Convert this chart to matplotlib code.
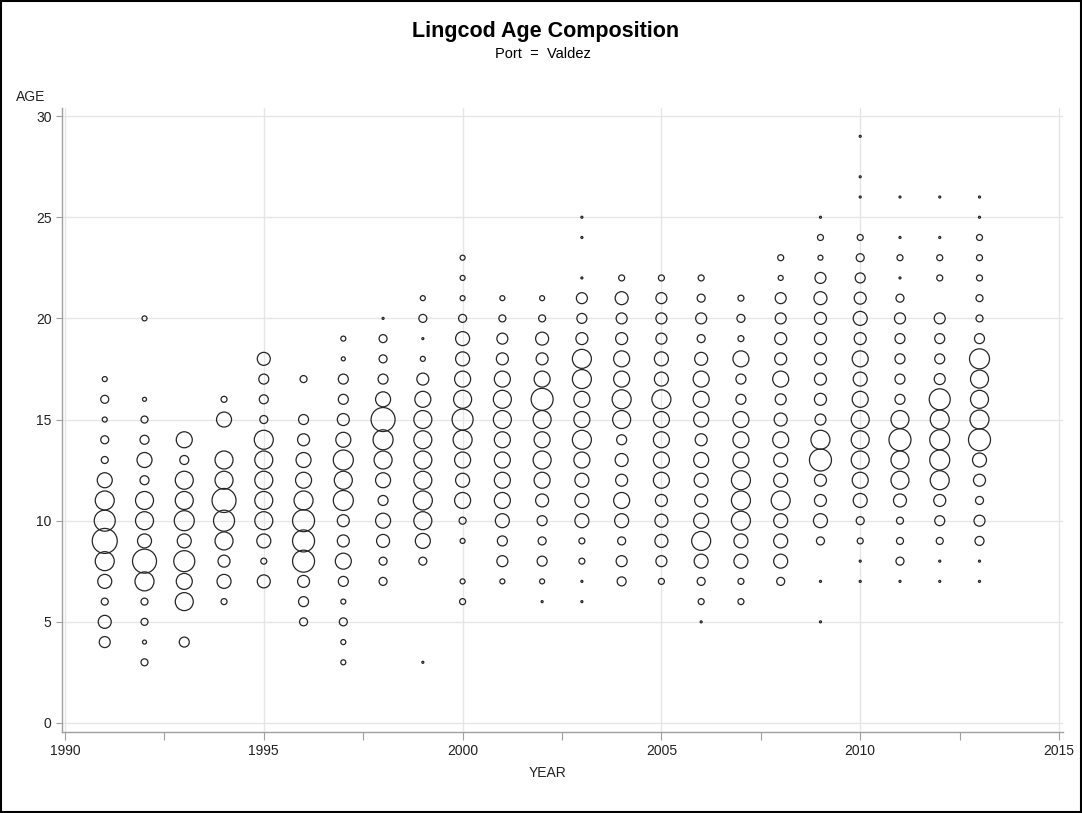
import matplotlib.pyplot as plt
import numpy as np
from matplotlib.patches import Rectangle

# sample year, ages present and relative bubble size (fish count) per age
years = [1991, 1992, 1993, 1994, 1995, 1996, 1997, 1998, 1999, 2000, 2001, 2002,
         2003, 2004, 2005, 2006, 2007, 2008, 2009, 2010, 2011, 2012, 2013]

ages = [
    [17, 16, 15, 14, 13, 12, 11, 10, 9, 8, 7, 6, 5, 4],
    [20, 16, 15, 14, 13, 12, 11, 10, 9, 8, 7, 6, 5, 4, 3],
    [14, 13, 12, 11, 10, 9, 8, 7, 6, 4],
    [16, 15, 13, 12, 11, 10, 9, 8, 7, 6],
    [18, 17, 16, 15, 14, 13, 12, 11, 10, 9, 8, 7],
    [17, 15, 14, 13, 12, 11, 10, 9, 8, 7, 6, 5],
    [19, 18, 17, 16, 15, 14, 13, 12, 11, 10, 9, 8, 7, 6, 5, 4, 3],
    [20, 19, 18, 17, 16, 15, 14, 13, 12, 11, 10, 9, 8, 7],
    [21, 20, 19, 18, 17, 16, 15, 14, 13, 12, 11, 10, 9, 8, 3],
    [23, 22, 21, 20, 19, 18, 17, 16, 15, 14, 13, 12, 11, 10, 9, 7, 6],
    [21, 20, 19, 18, 17, 16, 15, 14, 13, 12, 11, 10, 9, 8, 7],
    [21, 20, 19, 18, 17, 16, 15, 14, 13, 12, 11, 10, 9, 8, 7, 6],
    [25, 24, 22, 21, 20, 19, 18, 17, 16, 15, 14, 13, 12, 11, 10, 9, 8, 7, 6],
    [22, 21, 20, 19, 18, 17, 16, 15, 14, 13, 12, 11, 10, 9, 8, 7],
    [22, 21, 20, 19, 18, 17, 16, 15, 14, 13, 12, 11, 10, 9, 8, 7],
    [22, 21, 20, 19, 18, 17, 16, 15, 14, 13, 12, 11, 10, 9, 8, 7, 6, 5],
    [21, 20, 19, 18, 17, 16, 15, 14, 13, 12, 11, 10, 9, 8, 7, 6],
    [23, 22, 21, 20, 19, 18, 17, 16, 15, 14, 13, 12, 11, 10, 9, 8, 7],
    [25, 24, 23, 22, 21, 20, 19, 18, 17, 16, 15, 14, 13, 12, 11, 10, 9, 7, 5],
    [29, 27, 26, 24, 23, 22, 21, 20, 19, 18, 17, 16, 15, 14, 13, 12, 11, 10, 9, 8, 7],
    [26, 24, 23, 22, 21, 20, 19, 18, 17, 16, 15, 14, 13, 12, 11, 10, 9, 8, 7],
    [26, 24, 23, 22, 20, 19, 18, 17, 16, 15, 14, 13, 12, 11, 10, 9, 8, 7],
    [26, 25, 24, 23, 22, 21, 20, 19, 18, 17, 16, 15, 14, 13, 12, 11, 10, 9, 8, 7],
]

counts = [
    [4, 7, 4, 7, 6, 14, 18, 20, 24, 18, 13, 6, 12, 10],
    [4, 3, 6, 8, 14, 8, 17, 17, 13, 23, 18, 6, 6, 3, 6],
    [15, 8, 17, 17, 19, 13, 20, 15, 17, 9],
    [5, 14, 17, 17, 23, 20, 17, 11, 13, 5],
    [12, 9, 8, 7, 18, 17, 17, 17, 17, 13, 5, 12],
    [6, 9, 11, 14, 15, 18, 21, 21, 21, 11, 9, 7],
    [4, 3, 9, 9, 11, 14, 19, 17, 19, 11, 11, 15, 9, 4, 7, 4, 4],
    [1, 7, 7, 9, 14, 23, 19, 17, 14, 9, 14, 12, 7, 7],
    [4, 7, 1, 4, 11, 15, 17, 17, 17, 17, 18, 17, 14, 7, 1],
    [4, 4, 4, 7, 13, 13, 15, 17, 20, 18, 15, 13, 15, 6, 4, 4, 5],
    [4, 6, 10, 11, 15, 17, 17, 15, 15, 15, 15, 13, 9, 10, 4],
    [4, 6, 12, 11, 15, 21, 17, 15, 17, 15, 12, 9, 7, 9, 4, 1],
    [1, 1, 1, 10, 9, 11, 18, 18, 15, 15, 18, 15, 13, 13, 13, 5, 5, 1, 1],
    [5, 12, 10, 11, 15, 15, 18, 17, 9, 12, 11, 15, 13, 7, 10, 8],
    [5, 10, 10, 10, 13, 13, 18, 15, 15, 15, 15, 11, 12, 12, 10, 5],
    [5, 7, 10, 7, 12, 15, 15, 14, 11, 14, 13, 12, 14, 18, 13, 7, 5, 1],
    [5, 7, 5, 15, 9, 9, 15, 15, 15, 18, 18, 18, 13, 13, 5, 5],
    [5, 4, 10, 10, 11, 11, 15, 10, 12, 15, 13, 13, 18, 13, 13, 13, 7],
    [1, 5, 4, 10, 12, 11, 11, 11, 11, 11, 10, 18, 21, 11, 11, 13, 7, 1, 1],
    [1, 1, 1, 5, 7, 9, 11, 13, 11, 15, 13, 15, 17, 17, 17, 15, 13, 7, 5, 1, 1],
    [1, 1, 5, 1, 7, 10, 9, 9, 9, 9, 17, 21, 17, 17, 12, 6, 6, 7, 1],
    [1, 1, 5, 5, 10, 9, 9, 10, 20, 18, 19, 19, 18, 11, 9, 6, 1, 1],
    [1, 1, 5, 5, 5, 6, 6, 9, 19, 17, 17, 18, 21, 13, 11, 7, 10, 8, 1, 1],
]


def bubble_size(n):
    # bubble diameter grows linearly with the count (SAS-style radius scaling)
    d_pt = (np.asarray(n) + 1.0) * 0.72
    return d_pt ** 2


plt.rcParams["font.family"] = ["Liberation Sans", "DejaVu Sans"]

W, H = 1082, 813
fig = plt.figure(figsize=(W / 100, H / 100), dpi=100)
ax = fig.add_axes([62 / W, 1 - 732 / H, 1001 / W, 624 / H])

for yr, a, n in zip(years, ages, counts):
    ax.scatter(np.full(len(a), yr), a, s=bubble_size(n), facecolors="none",
               edgecolors="#262626", linewidths=0.9, zorder=3)

ax.set_xlim(1989.925, 2015.1)
ax.set_ylim(-0.445, 30.4)
ax.set_xticks(np.arange(1990, 2016, 5))
ax.set_xticks(np.arange(1992.5, 2015, 5), minor=True)
ax.set_yticks(np.arange(0, 31, 5))
ax.grid(True, which="major", color="#e6e6e6", lw=1, zorder=0)
ax.set_axisbelow(True)

for side in ["top", "right"]:
    ax.spines[side].set_visible(False)
for side in ["left", "bottom"]:
    ax.spines[side].set_color("#a0a0a0")
    ax.spines[side].set_linewidth(1)

ax.tick_params(axis="x", which="both", length=5.5, width=0.8, color="#a0a0a0",
               labelsize=10, labelcolor="#222222", pad=3)
ax.tick_params(axis="y", which="both", length=4.5, width=0.8, color="#a0a0a0",
               labelsize=10, labelcolor="#222222", pad=3)

fig.text(546 / W, 1 - 32 / H, "Lingcod Age Composition", ha="center", va="center",
         fontsize=15.5, fontweight="bold")
fig.text(543 / W, 1 - 54 / H, "Port  =  Valdez", ha="center", va="center", fontsize=10.5)
fig.text(16 / W, 1 - 97 / H, "AGE", ha="left", va="center", fontsize=10, color="#222222")
fig.text(548 / W, 1 - 773 / H, "YEAR", ha="center", va="center", fontsize=10, color="#222222")

fig.patches.append(Rectangle((0.0008, 0.001), 0.9985, 0.998, transform=fig.transFigure,
                             fill=False, ec="black", lw=1.5))

fig.savefig("out.png", dpi=100)
